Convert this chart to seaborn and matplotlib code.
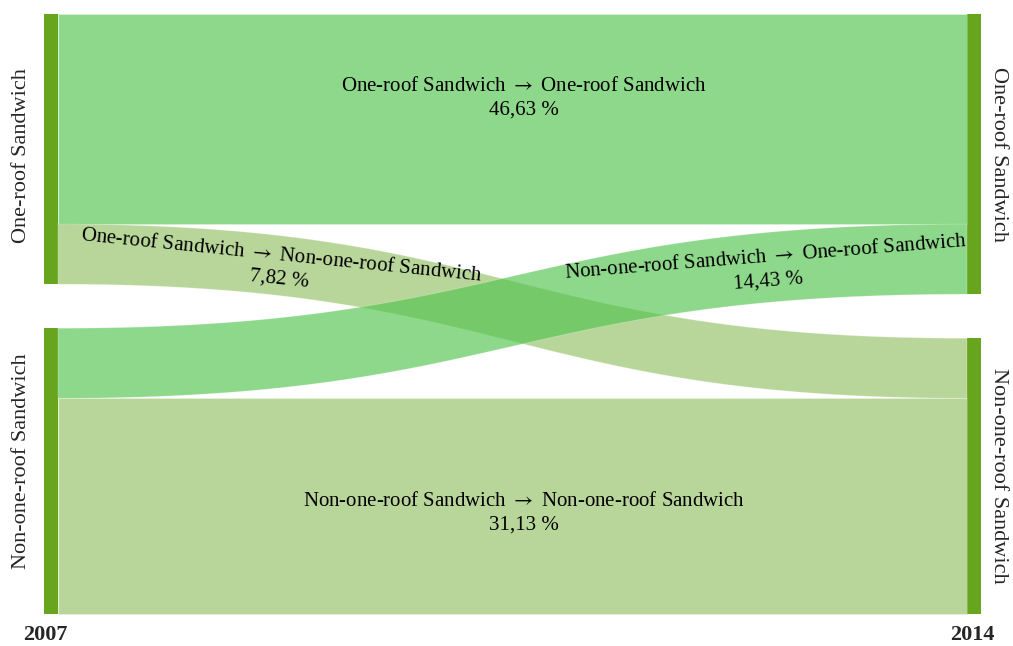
import numpy as np
import matplotlib
matplotlib.use("Agg")
import matplotlib.pyplot as plt
import seaborn as sns

sns.set_style("white")
plt.rcParams['font.family'] = ['Liberation Serif', 'DejaVu Serif']
plt.rcParams['mathtext.fontset'] = 'stix'

# data
years = ["2007", "2014"]
nodes = ["One-roof Sandwich", "Non-one-roof Sandwich"]
flow_src = [0, 0, 1, 1]
flow_dst = [0, 1, 0, 1]
flow_size = [37.8, 10.8, 12.6, 38.8]     # band widths (share of area)
flow_pct = ["46,63 %", "7,82 %", "14,43 %", "31,13 %"]

node_color = "#68a51f"
link_colors = [(81/255, 195/255, 77/255, 0.65), (117/255, 175/255, 55/255, 0.5)]

W, H = 1013, 646
fig = plt.figure(figsize=(W / 100, H / 100), dpi=100)
ax = fig.add_axes([0, 0, 1, 1])
ax.set_xlim(0, W)
ax.set_ylim(H, 0)
ax.axis("off")

# layout
top, bottom, pad = 14, 614, 44
node_w = 14
col_x = [44, 967]
scale = (bottom - top - pad) / sum(flow_size)

def node_totals(side):
    idx = flow_src if side == 0 else flow_dst
    tot = [0.0, 0.0]
    for i, s in zip(idx, flow_size):
        tot[i] += s
    return tot

node_y = []
for side in range(2):
    tot = node_totals(side)
    y = top
    ys = []
    for t in tot:
        ys.append(y)
        y += t * scale + pad
    node_y.append(ys)
    for k, t in enumerate(tot):
        ax.add_patch(plt.Rectangle((col_x[side], ys[k]), node_w, t * scale,
                                   color=node_color, lw=0))

# flows (cubic bezier bands)
x0 = col_x[0] + node_w
x1 = col_x[1]
xm = (x0 + x1) / 2
t = np.linspace(0, 1, 200)

def bez(a, b):
    return (a * (1 - t) ** 3 + 3 * a * (1 - t) ** 2 * t + 3 * b * (1 - t) * t ** 2 + b * t ** 3)

xs = x0 * (1 - t) ** 3 + 3 * xm * (1 - t) ** 2 * t + 3 * xm * (1 - t) * t ** 2 + x1 * t ** 3

off_l = list(node_y[0])
off_r = list(node_y[1])
paths = []
for s, d, w in zip(flow_src, flow_dst, flow_size):
    h = w * scale
    ya, yb = off_l[s], off_r[d]
    off_l[s] += h
    off_r[d] += h
    top_y = bez(ya, yb)
    bot_y = bez(ya + h, yb + h)
    ax.fill(np.concatenate([xs, xs[::-1]]), np.concatenate([top_y, bot_y[::-1]]),
            color=link_colors[d], lw=0.6, ec=(1, 1, 1, 0.25))
    paths.append((top_y, bot_y))

# flow labels
fs = 15
label_frac = [None, 0.245, 0.78, None]
for k, (s, d) in enumerate(zip(flow_src, flow_dst)):
    txt = nodes[s] + r" $\rightarrow$ " + nodes[d] + "\n" + flow_pct[k]
    top_y, bot_y = paths[k]
    mid = (top_y + bot_y) / 2
    if label_frac[k] is None:
        cy = mid[100] + (-21 if k == 0 else 7)
        ax.text(524, cy, txt, ha="center", va="center", fontsize=fs,
                linespacing=1.35, color="black")
    else:
        lx = x0 + label_frac[k] * (x1 - x0)
        i = np.argmin(np.abs(xs - lx))
        ly = mid[i]
        slope = np.gradient(mid, xs)[i]
        ang = -np.degrees(np.arctan(slope)) * 0.88
        ax.text(lx, ly + 2, txt, ha="center", va="center", fontsize=fs,
                linespacing=1.35, rotation=ang, rotation_mode="anchor", color="black")

# node labels
label_shift = [[6, -10], [0, 0]]
for side in range(2):
    tot = node_totals(side)
    for k, tt in enumerate(tot):
        cy = node_y[side][k] + tt * scale / 2 + label_shift[side][k]
        if side == 0:
            ax.text(22, cy, nodes[k], rotation=90, ha="center", va="center", fontsize=16)
        else:
            ax.text(999, cy, nodes[k], rotation=-90, ha="center", va="center", fontsize=16)

ax.text(45, 635, years[0], ha="center", va="center", fontsize=16, fontweight="bold")
ax.text(972, 635, years[1], ha="center", va="center", fontsize=16, fontweight="bold")

fig.savefig("out.png", dpi=100)
